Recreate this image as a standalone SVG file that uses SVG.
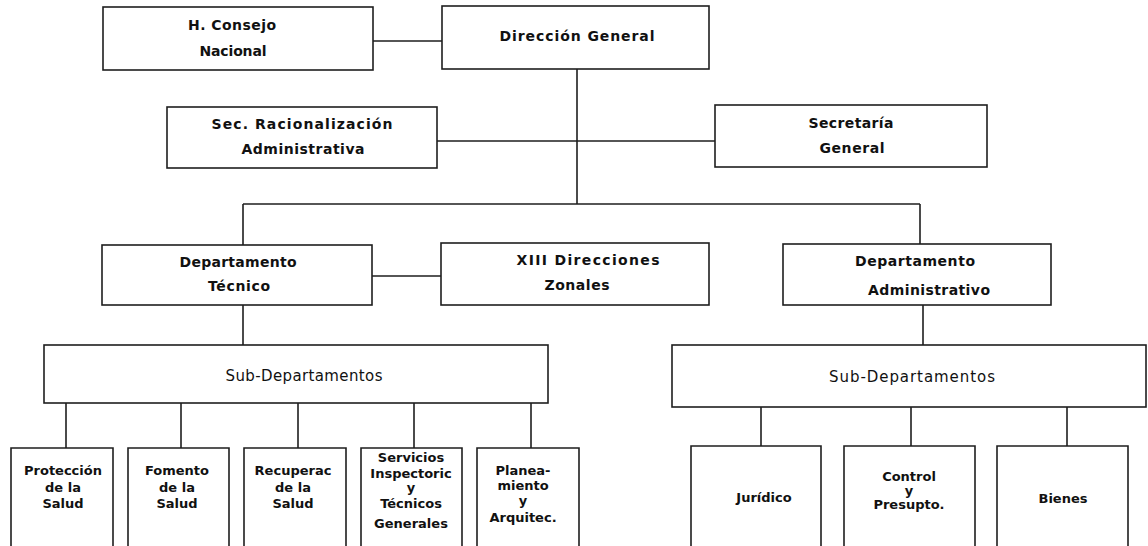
<svg xmlns="http://www.w3.org/2000/svg" width="1148" height="546" viewBox="0 0 1148 546">
<style>
  .box { fill: #ffffff; stroke: #1e1e1e; stroke-width: 1.6; }
  .obox { fill: none; stroke: #1e1e1e; stroke-width: 1.6; }
  .conn { fill: none; stroke: #1e1e1e; stroke-width: 1.6; }
  text { font-family: "DejaVu Sans", "Liberation Sans", sans-serif; font-size: 14px; fill: #111111; text-anchor: middle; }
  .b { font-weight: bold; }
  .sm { font-size: 13px; }
  .sub { font-size: 15px; }
</style>
<rect width="1148" height="546" fill="#ffffff"/>

<g id="connectors">
  <path class="conn" d="M373,41 H442"/>
  <path class="conn" d="M577,69 V204"/>
  <path class="conn" d="M437,141 H715"/>
  <path class="conn" d="M243,204 H920"/>
  <path class="conn" d="M243,204 V245"/>
  <path class="conn" d="M920,204 V244"/>
  <path class="conn" d="M372,276 H441"/>
  <path class="conn" d="M243,305 V345"/>
  <path class="conn" d="M923,305 V345"/>
  <path class="conn" d="M66,403 V448"/>
  <path class="conn" d="M181,403 V448"/>
  <path class="conn" d="M298,403 V448"/>
  <path class="conn" d="M414,403 V448"/>
  <path class="conn" d="M531,403 V448"/>
  <path class="conn" d="M761,407 V446"/>
  <path class="conn" d="M911,407 V446"/>
  <path class="conn" d="M1067,407 V446"/>
</g>

<g id="consejo">
  <rect class="box" x="103" y="7" width="270" height="63"/>
  <text class="b" x="232" y="30" textLength="88" lengthAdjust="spacing">H.  Consejo</text>
  <text class="b" x="233" y="56" textLength="67" lengthAdjust="spacing">Nacional</text>
</g>

<g id="direccion">
  <rect class="box" x="442" y="6" width="267" height="63"/>
  <text class="b" x="577" y="41" textLength="155" lengthAdjust="spacing">Dirección  General</text>
</g>

<g id="sec-racionalizacion">
  <rect class="box" x="167" y="107" width="270" height="61"/>
  <text class="b" x="302" y="129" textLength="181" lengthAdjust="spacing">Sec.  Racionalización</text>
  <text class="b" x="303" y="154" textLength="123" lengthAdjust="spacing">Administrativa</text>
</g>

<g id="secretaria">
  <rect class="box" x="715" y="105" width="272" height="62"/>
  <text class="b" x="851" y="128" textLength="85" lengthAdjust="spacing">Secretaría</text>
  <text class="b" x="852" y="153" textLength="65" lengthAdjust="spacing">General</text>
</g>

<g id="dep-tecnico">
  <rect class="box" x="102" y="245" width="270" height="60"/>
  <text class="b" x="238" y="267" textLength="117" lengthAdjust="spacing">Departamento</text>
  <text class="b" x="239" y="291" textLength="62" lengthAdjust="spacing">Técnico</text>
</g>

<g id="direcciones-zonales">
  <rect class="box" x="441" y="243" width="268" height="62"/>
  <text class="b" x="588" y="265" textLength="143" lengthAdjust="spacing">XIII  Direcciones</text>
  <text class="b" x="577" y="290" textLength="65" lengthAdjust="spacing">Zonales</text>
</g>

<g id="dep-administrativo">
  <rect class="box" x="783" y="244" width="268" height="61"/>
  <text class="b" x="915" y="266" textLength="120" lengthAdjust="spacing">Departamento</text>
  <text class="b" x="929" y="295" textLength="122" lengthAdjust="spacing">Administrativo</text>
</g>

<g id="subdep-tecnico">
  <rect class="box" x="44" y="345" width="504" height="58"/>
  <text class="sub" x="304" y="381" textLength="157" lengthAdjust="spacing">Sub-Departamentos</text>
</g>

<g id="subdep-administrativo">
  <rect class="box" x="672" y="345" width="474" height="62"/>
  <text class="sub" x="912" y="382" textLength="166" lengthAdjust="spacing">Sub-Departamentos</text>
</g>

<g id="proteccion">
  <path class="obox" d="M11,546 V448 H113 V546"/>
  <text class="b sm" x="63" y="475">Protección</text>
  <text class="b sm" x="63" y="492">de  la</text>
  <text class="b sm" x="63" y="508">Salud</text>
</g>

<g id="fomento">
  <path class="obox" d="M128,546 V448 H229 V546"/>
  <text class="b sm" x="177" y="475">Fomento</text>
  <text class="b sm" x="177" y="492">de  la</text>
  <text class="b sm" x="177" y="508">Salud</text>
</g>

<g id="recuperacion">
  <path class="obox" d="M244,546 V448 H346 V546"/>
  <text class="b sm" x="293" y="475">Recuperac</text>
  <text class="b sm" x="293" y="492">de  la</text>
  <text class="b sm" x="293" y="508">Salud</text>
</g>

<g id="servicios">
  <path class="obox" d="M361,546 V448 H462 V546"/>
  <text class="b sm" x="411" y="462">Servicios</text>
  <text class="b sm" x="411" y="478">Inspectoric</text>
  <text class="b sm" x="411" y="492">y</text>
  <text class="b sm" x="411" y="508">Técnicos</text>
  <text class="b sm" x="411" y="528">Generales</text>
</g>

<g id="planeamiento">
  <path class="obox" d="M477,546 V448 H579 V546"/>
  <text class="b sm" x="523" y="475">Planea-</text>
  <text class="b sm" x="523" y="490">miento</text>
  <text class="b sm" x="523" y="505">y</text>
  <text class="b sm" x="523" y="522">Arquitec.</text>
</g>

<g id="juridico">
  <path class="obox" d="M691,546 V446 H821 V546"/>
  <text class="b sm" x="764" y="502">Jurídico</text>
</g>

<g id="control">
  <path class="obox" d="M844,546 V446 H975 V546"/>
  <text class="b sm" x="909" y="481">Control</text>
  <text class="b sm" x="909" y="495">y</text>
  <text class="b sm" x="909" y="509">Presupto.</text>
</g>

<g id="bienes">
  <path class="obox" d="M997,546 V446 H1128 V546"/>
  <text class="b sm" x="1063" y="503">Bienes</text>
</g>
</svg>
